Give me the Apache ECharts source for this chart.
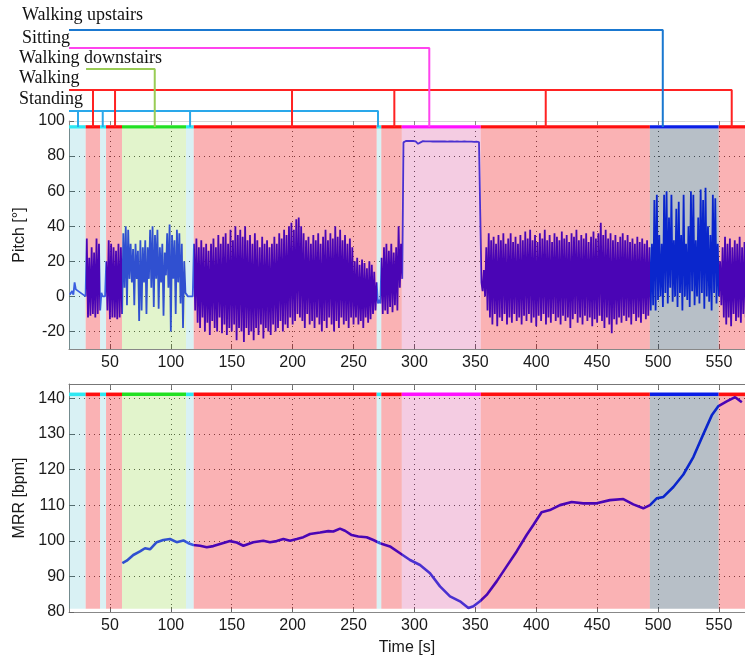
<!DOCTYPE html>
<html>
<head>
<meta charset="utf-8">
<script src="https://cdn.jsdelivr.net/npm/echarts@6/dist/echarts.min.js"></script>
<style>
  html, body { margin: 0; padding: 0; background: #fff; }
  #chart { width: 745px; height: 657px; }
</style>
</head>
<body>
<div id="chart"></div>
<script>
// activity segments [s]
const segStart = [16.4, 30.1, 41.9, 46.8, 59.9, 112.5, 118.8, 269.0, 272.8, 289.6, 354.5, 493.3, 549.8];
const segEnd = [30.1, 41.9, 46.8, 59.9, 112.5, 118.8, 269.0, 272.8, 289.6, 354.5, 493.3, 549.8, 571.4];
const segAct = ["Standing", "Walking", "Standing", "Walking", "Walking downstairs", "Standing",
  "Walking", "Standing", "Walking", "Sitting", "Walking", "Walking upstairs", "Walking"];

// connector marks above the pitch plot (time of each drop) [s]
const standingMarks = [23.8, 44.1, 115.8, 270.1];
const walkingMarks = [36.1, 54.2, 199.5, 283.5, 407.8, 560.5];
const downstairsMarks = [86.8];
const sittingMarks = [312.2];
const upstairsMarks = [503.9];

// pitch envelope, one bin every 2 s starting at 17 s (high, then low 1 s later) [deg]
const pitchT0 = 17;
const pitchHi = [
  1, 3, 8, 5, 4, 2, 1,
  33, 22, 28, 25, 33, 30,
  2, 1,
  20, 32, 30, 28, 26, 30, 28,
  36, 40, 38, 30, 27, 30, 26, 32, 28, 32, 28, 38, 40, 35, 38, 28, 30, 25, 36, 41, 35, 32, 38, 36, 30, 20,
  1, 1, 1,
  30, 33, 28, 32, 28, 30, 26, 30, 33, 28, 35, 30, 34, 36, 30, 38, 32, 40, 35, 38,
  34, 40, 32, 35, 30, 36, 32, 28, 34, 30, 32, 28, 30, 34, 30, 36, 33, 38, 35, 40,
  42, 38, 44, 45, 40, 36, 32, 34, 30, 35, 32, 36, 30, 34, 38, 32, 36, 33, 40, 34,
  38, 32, 35, 30, 33, 28, 20, 22, 18, 21, 19, 16, 20, 18, 14, 8,
  -2,
  22, 28, 30, 26, 30, 25, 28, 40, 30,
  87.8, 88.6, 88.7, 88.6, 88.6, 88.4, 87.0, 87.8, 88.5, 88.4, 88.4, 88.4, 88.3, 88.4, 88.3, 88.3,
  88.4, 88.3, 88.2, 88.3, 88.3, 88.2, 88.3, 88.2, 88.2, 88.3, 88.2, 88.2, 88.2, 88.1, 88.2, 88.0,
  8, 15, 28, 36, 32, 34, 30, 35, 32, 36, 30, 33, 36, 31, 34, 30, 35, 32, 37, 33,
  38, 32, 35, 31, 36, 33, 38, 32, 35, 31, 36, 34, 32, 37, 33, 35, 31, 36, 34, 38,
  32, 35, 33, 36, 31, 34, 37, 33, 36, 42, 35, 38, 33, 36, 32, 35, 31, 34, 36, 32,
  35, 31, 33, 30, 34, 31, 33, 30, 32, 28,
  30, 55, 58, 35, 30, 58, 60, 45, 58, 32, 50, 54, 35, 58, 30, 40, 60, 58, 32, 45, 61, 55, 62, 40, 35, 58, 56, 30,
  20, 28, 34, 30, 33, 28, 32, 30, 34, 28, 31
];
const pitchLo = [
  0, 1, 4, 3, 2, 1, 0,
  -12, -11, -10, -12, -10, -8,
  0, 0,
  -8, -13, -12, -12, -13, -12, -10,
  5, -5, 10, 8, -5, 10, -14, -8, 8, -10, 10, 5, -6, 10, -7, 8, -11, 12, 5, -20, 10, -10, 8, -4, -18, 2,
  0, 0, 0,
  -8, -15, -18, -12, -20, -15, -22, -14, -18, -20, -12, -21, -16, -22, -18, -20, -16, -25, -18, -20,
  -26, -18, -22, -20, -25, -18, -22, -16, -24, -18, -20, -22, -16, -20, -18, -14, -20, -16, -18, -12,
  -16, -14, -10, -12, -14, -18, -10, -16, -14, -18, -12, -16, -20, -14, -18, -12, -16, -20, -14, -18,
  -12, -16, -14, -18, -12, -16, -12, -16, -14, -18, -12, -15, -13, -10, -8, -4,
  -4,
  -10, -8, -10, -6, -9, -5, -8, 5, 10,
  87.5, 88.3, 88.4, 88.3, 88.3, 88.1, 86.7, 87.5, 88.2, 88.1, 88.1, 88.1, 88.0, 88.1, 88.0, 88.0,
  88.1, 88.0, 87.9, 88.0, 88.0, 87.9, 88.0, 87.9, 87.9, 88.0, 87.9, 87.9, 87.9, 87.8, 87.9, 87.7,
  3, 0, -8, -12, -16, -10, -17, -12, -14, -10, -16, -12, -15, -10, -14, -12, -16, -11, -14, -10,
  -15, -12, -17, -11, -14, -10, -16, -12, -15, -10, -14, -12, -16, -11, -14, -12, -18, -13, -10, -15,
  -12, -16, -11, -14, -12, -17, -13, -15, -11, -14, -18, -12, -16, -21, -13, -16, -12, -15, -11, -14,
  -12, -16, -10, -14, -12, -15, -10, -13, -11, -8,
  -5, -8, -2, 0, -6, 2, -4, 5, -3, 0, -6, 2, -8, 0, -2, -6, 3, -5, 0, -4, 2, -7, 0, -3, -8, 2, -4, 0,
  -5, -12, -16, -12, -17, -10, -14, -12, -15, -10, -12
];

// mean respiration rate
const mrrTime = [60.2, 63.8, 69.2, 74.7, 78.8, 82.9, 88.4, 93.8, 99.3, 104.8,
  110.3, 114.4, 118.5, 124, 129.5, 134.9, 140.4, 148.6, 154.1, 159.6,
  167.7, 175.9, 181.4, 186.9, 192.4, 197.9, 203.4, 208.8, 214.3, 222.5,
  229.3, 233.4, 238.9, 243, 248.5, 253.9, 260.8, 266.3, 271.7, 279.9,
  288.2, 296.4, 304.6, 312.8, 321, 329.2, 337.4, 344.3, 348.4, 353.8,
  359.3, 367.5, 375.7, 383.9, 392.1, 397.6, 404.4, 411.2, 419.5, 429.1,
  438.6, 449.6, 460.5, 471.5, 479.7, 487.9, 493.4, 498.9, 504.4, 512.6,
  520.8, 529, 537.3, 544.1, 549.6, 556.4, 563.3, 568.8];
const mrrValue = [93.7, 94.4, 96, 97, 97.9, 97.6, 99.6, 100.2, 100.5, 99.6,
  100.1, 99.3, 98.8, 98.6, 98.2, 98.5, 99.1, 99.9, 99.5, 98.6,
  99.6, 100.0, 99.6, 99.9, 100.5, 100.0, 100.5, 101, 101.9, 102.3,
  102.7, 102.6, 103.4, 102.8, 101.6, 101.2, 101, 100.2, 99.3, 98.4,
  96.5, 94.6, 93.2, 90.9, 87.2, 84.4, 83, 81.1, 81.6, 83,
  84.8, 88.6, 92.8, 97, 101.6, 104.4, 108, 108.6, 110, 110.9,
  110.5, 110.5, 111.4, 111.7, 110.2, 109.1, 110, 111.9, 112.3, 115.1,
  118.6, 123.5, 130, 135.2, 137.8, 139.1, 140.3, 138.9];

// styling per activity
const shade = {
  "Standing": "rgba(0,160,180,0.15)",
  "Walking": "rgba(240,0,5,0.3)",
  "Walking downstairs": "rgba(110,200,0,0.2)",
  "Sitting": "rgba(200,0,110,0.2)",
  "Walking upstairs": "rgba(30,55,80,0.32)"
};
const barColor = {
  "Standing": "#2ee8f2",
  "Walking": "#ff0f0f",
  "Walking downstairs": "#22e022",
  "Sitting": "#ff10ff",
  "Walking upstairs": "#0a1ee6"
};
const lineColor = {
  "Standing": "#3a5ee0",
  "Walking": "#4a05b5",
  "Walking downstairs": "#3050d0",
  "Sitting": "#4a30d0",
  "Walking upstairs": "#0a26cc"
};
const linkColor = {
  "Standing": "#2aa8ea",
  "Walking": "#ff2222",
  "Walking downstairs": "#99cc55",
  "Sitting": "#ff44ee",
  "Walking upstairs": "#1a78d0"
};

const X_MIN = 16.4, X_MAX = 571.4;

let pitchData = [];
for (let i = 0; i < pitchHi.length; i++) {
  const t = pitchT0 + 2 * i;
  pitchData.push([t, pitchHi[i]]);
  pitchData.push([t + 1, pitchLo[i]]);
}
const mrrData = mrrTime.map((t, i) => [t, mrrValue[i]]);

function bands(y0, y1, colors) {
  return segStart.map((s, i) => [
    { xAxis: s, yAxis: y0, itemStyle: { color: colors[segAct[i]] } },
    { xAxis: segEnd[i], yAxis: y1 }
  ]);
}

// connectors: rows from bottom (Standing) to top (Walking upstairs)
const links = [
  { name: "Standing", start: X_MIN, level: 0.78, marks: standingMarks },
  { name: "Walking", start: X_MIN, level: 1.81, marks: walkingMarks },
  { name: "Walking downstairs", start: 30.4, level: 2.83, marks: downstairsMarks },
  { name: "Sitting", start: X_MIN, level: 3.86, marks: sittingMarks },
  { name: "Walking upstairs", start: X_MIN, level: 4.74, marks: upstairsMarks }
];
const labelPos = {
  "Standing": [19, 101], "Walking": [19, 80], "Walking downstairs": [19, 60],
  "Sitting": [22, 40], "Walking upstairs": [22, 17]
};

function linkPath(l) {
  let d = [[l.start, l.level]];
  l.marks.forEach(m => { d.push([m, l.level], [m, 0], [m, l.level]); });
  return d;
}

const axisGrey = "#888";
const gridDots = { show: true, lineStyle: { color: "#555", type: [1, 4], width: 1 } };
const tickLabel = { color: "#1a1a1a", fontSize: 16, fontFamily: "Liberation Sans" };

const option = {
  animation: false,
  textStyle: { fontFamily: "Liberation Sans" },
  grid: [
    { left: 69, right: 0, top: 121, height: 228 },
    { left: 69, right: 0, top: 384, height: 230 },
    { left: 69, right: 0, top: 0, height: 127 }
  ],
  xAxis: [
    { type: "value", gridIndex: 0, min: X_MIN, max: X_MAX, splitNumber: 10,
      axisLine: { onZero: false, lineStyle: { color: axisGrey } },
      axisTick: { inside: true, length: 5, lineStyle: { color: "#666" } },
      axisLabel: Object.assign({ margin: 6, showMinLabel: false, showMaxLabel: false }, tickLabel),
      splitLine: gridDots },
    { type: "value", gridIndex: 0, position: "top", min: X_MIN, max: X_MAX, splitNumber: 10,
      axisLine: { onZero: false, lineStyle: { color: "#d8d8d8" } },
      axisTick: { inside: true, length: 4, lineStyle: { color: "#888" } },
      axisLabel: { show: false }, splitLine: { show: false } },
    { type: "value", gridIndex: 1, min: X_MIN, max: X_MAX, splitNumber: 10,
      name: "Time [s]", nameLocation: "middle", nameGap: 28,
      nameTextStyle: { color: "#1a1a1a", fontSize: 16 },
      axisLine: { onZero: false, lineStyle: { color: axisGrey } },
      axisTick: { inside: true, length: 5, lineStyle: { color: "#666" } },
      axisLabel: Object.assign({ margin: 6, showMinLabel: false, showMaxLabel: false }, tickLabel),
      splitLine: gridDots },
    { type: "value", gridIndex: 1, position: "top", min: X_MIN, max: X_MAX, splitNumber: 10,
      axisLine: { onZero: false, lineStyle: { color: "#777" } },
      axisTick: { inside: true, length: 5, lineStyle: { color: "#777" } },
      axisLabel: { show: false }, splitLine: { show: false } },
    { type: "value", gridIndex: 2, min: X_MIN, max: X_MAX, show: false }
  ],
  yAxis: [
    { type: "value", gridIndex: 0, min: -30, max: 100, splitNumber: 6,
      name: "Pitch [°]", nameLocation: "middle", nameGap: 30,
      nameTextStyle: { color: "#1a1a1a", fontSize: 16 },
      axisLine: { show: true, onZero: false, lineStyle: { color: axisGrey } },
      axisTick: { show: true, inside: true, length: 5, lineStyle: { color: "#666" } },
      axisLabel: Object.assign({ margin: 4, showMinLabel: false }, tickLabel),
      splitLine: gridDots },
    { type: "value", gridIndex: 1, min: 80, max: 144, interval: 10,
      name: "MRR [bpm]", nameLocation: "middle", nameGap: 33,
      nameTextStyle: { color: "#1a1a1a", fontSize: 16 },
      axisLine: { show: true, onZero: false, lineStyle: { color: axisGrey } },
      axisTick: { show: true, inside: true, length: 5, lineStyle: { color: "#666" } },
      axisLabel: Object.assign({ margin: 4, showMaxLabel: false }, tickLabel),
      splitLine: gridDots },
    { type: "value", gridIndex: 2, min: 0, max: 6.2, show: false }
  ],
  visualMap: {
    show: false, type: "piecewise", dimension: 0, seriesIndex: [4, 5],
    pieces: segStart.map((s, i) => ({ gte: s, lt: segEnd[i], color: lineColor[segAct[i]] })),
    outOfRange: { color: lineColor["Walking"] }
  },
  series: [
    { type: "line", xAxisIndex: 0, yAxisIndex: 0, data: [], silent: true, z: 1,
      markArea: { silent: true, data: bands(-30, 95.7, shade) } },
    { type: "line", xAxisIndex: 0, yAxisIndex: 0, data: [], silent: true, z: 1,
      markArea: { silent: true, data: bands(95.7, 97.6, barColor) } },
    { type: "line", xAxisIndex: 2, yAxisIndex: 1, data: [], silent: true, z: 1,
      markArea: { silent: true, data: bands(80.9, 140.6, shade) } },
    { type: "line", xAxisIndex: 2, yAxisIndex: 1, data: [], silent: true, z: 1,
      markArea: { silent: true, data: bands(140.6, 141.6, barColor) } },
    { name: "Pitch", type: "line", xAxisIndex: 0, yAxisIndex: 0, data: pitchData,
      symbol: "none", sampling: null, z: 3, lineStyle: { width: 1.8 } },
    { name: "MRR", type: "line", xAxisIndex: 2, yAxisIndex: 1, data: mrrData,
      symbol: "none", z: 3, lineStyle: { width: 2.6 } }
  ].concat(links.map(l => ({
    name: l.name, type: "line", xAxisIndex: 4, yAxisIndex: 2, data: linkPath(l),
    symbol: "none", z: 4, lineStyle: { width: 2, color: linkColor[l.name] }
  }))),
  graphic: links.map(l => ({
    type: "text", left: labelPos[l.name][0], top: labelPos[l.name][1] - 11,
    style: { text: l.name, fill: "#111", font: "18px 'Liberation Serif'" }
  }))
};

const chart = echarts.init(document.getElementById("chart"));
chart.setOption(option);
</script>
</body>
</html>
